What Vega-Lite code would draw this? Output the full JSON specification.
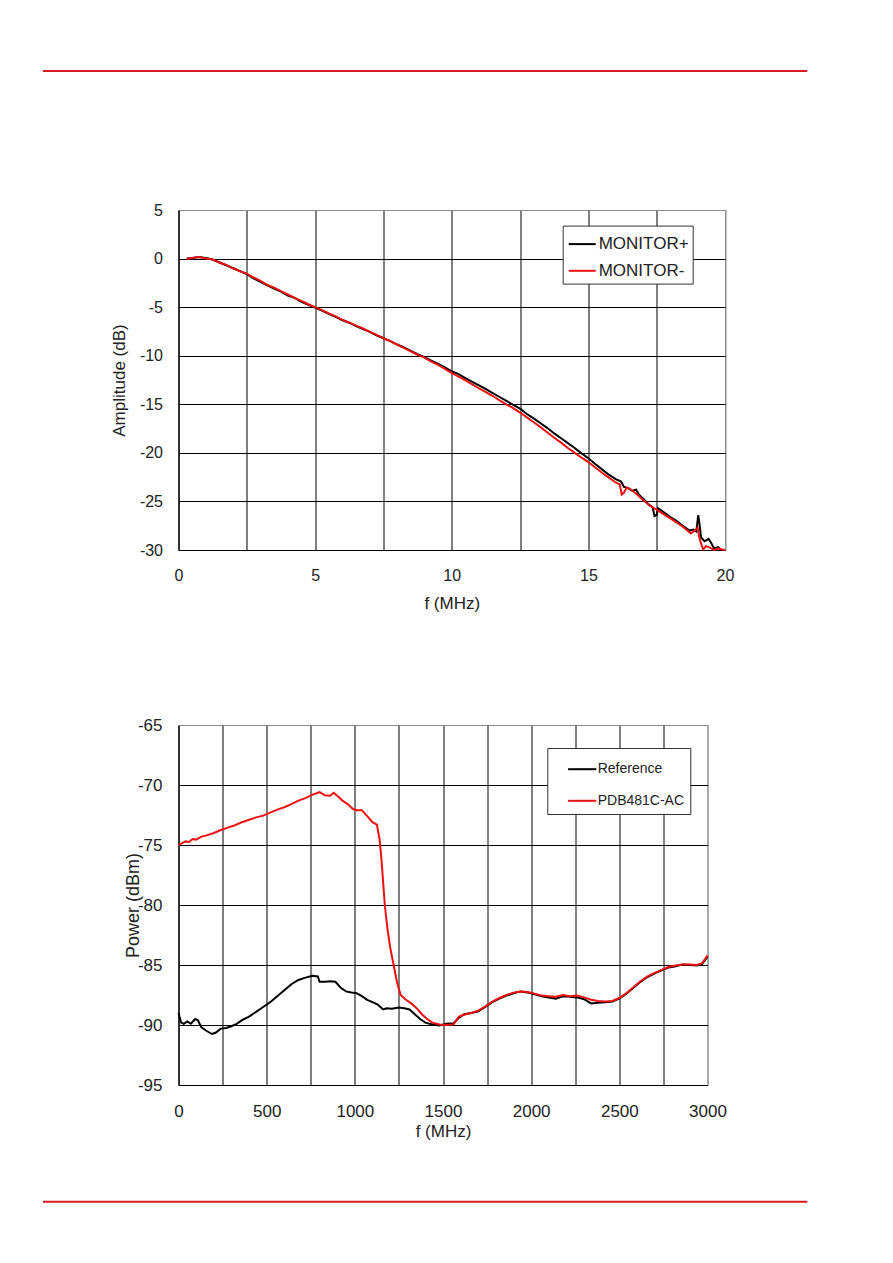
{
"$schema":"https://vega.github.io/schema/vega-lite/v6.json",
"padding":{"left":40.5,"top":69,"right":5,"bottom":5},
"autosize":{"type":"pad"},
"config":{
 "font":"Liberation Sans",
 "view":{"stroke":"#8c8c8c","strokeWidth":1},
 "axis":{"labelFont":"Liberation Sans","titleFont":"Liberation Sans","labelColor":"#222","titleColor":"#222","titleFontWeight":"normal","ticks":false,"tickSize":0,"domainColor":"#000","domainWidth":1,"gridWidth":1,"gridOpacity":1,"labelFlush":false,"labelOverlap":false},
 "legend":{"labelFont":"Liberation Sans","labelColor":"#222"}
},
"columns":1,
"spacing":103,
"resolve":{"scale":{"color":"independent"},"legend":{"color":"independent"}},
"datasets":{
"amp":[
{"f":0.3,"A":0,"s":"MONITOR+"},{"f":0.5,"A":0.05,"s":"MONITOR+"},{"f":0.75,"A":0.15,"s":"MONITOR+"},{"f":1.0,"A":0.05,"s":"MONITOR+"},{"f":1.25,"A":-0.1,"s":"MONITOR+"},{"f":1.5,"A":-0.4,"s":"MONITOR+"},{"f":1.75,"A":-0.7,"s":"MONITOR+"},{"f":2.0,"A":-1.0,"s":"MONITOR+"},{"f":2.25,"A":-1.3,"s":"MONITOR+"},{"f":2.5,"A":-1.6,"s":"MONITOR+"},{"f":2.75,"A":-2.05,"s":"MONITOR+"},{"f":3.0,"A":-2.4,"s":"MONITOR+"},{"f":3.25,"A":-2.75,"s":"MONITOR+"},{"f":3.5,"A":-3.1,"s":"MONITOR+"},{"f":3.75,"A":-3.4,"s":"MONITOR+"},{"f":4.0,"A":-3.8,"s":"MONITOR+"},{"f":4.25,"A":-4.05,"s":"MONITOR+"},{"f":4.5,"A":-4.45,"s":"MONITOR+"},{"f":4.75,"A":-4.75,"s":"MONITOR+"},{"f":5.0,"A":-5.05,"s":"MONITOR+"},{"f":5.25,"A":-5.35,"s":"MONITOR+"},{"f":5.5,"A":-5.7,"s":"MONITOR+"},{"f":5.75,"A":-6.0,"s":"MONITOR+"},{"f":6.0,"A":-6.35,"s":"MONITOR+"},{"f":6.25,"A":-6.6,"s":"MONITOR+"},{"f":6.5,"A":-6.95,"s":"MONITOR+"},{"f":6.75,"A":-7.25,"s":"MONITOR+"},{"f":7.0,"A":-7.55,"s":"MONITOR+"},{"f":7.25,"A":-7.9,"s":"MONITOR+"},{"f":7.5,"A":-8.2,"s":"MONITOR+"},{"f":7.75,"A":-8.5,"s":"MONITOR+"},{"f":8.0,"A":-8.85,"s":"MONITOR+"},{"f":8.25,"A":-9.15,"s":"MONITOR+"},{"f":8.5,"A":-9.5,"s":"MONITOR+"},{"f":8.75,"A":-9.85,"s":"MONITOR+"},{"f":9.0,"A":-10.15,"s":"MONITOR+"},{"f":9.25,"A":-10.5,"s":"MONITOR+"},{"f":9.5,"A":-10.85,"s":"MONITOR+"},{"f":9.75,"A":-11.2,"s":"MONITOR+"},{"f":10.0,"A":-11.6,"s":"MONITOR+"},{"f":10.25,"A":-11.9,"s":"MONITOR+"},{"f":10.5,"A":-12.3,"s":"MONITOR+"},{"f":10.75,"A":-12.7,"s":"MONITOR+"},{"f":11.0,"A":-13.05,"s":"MONITOR+"},{"f":11.25,"A":-13.45,"s":"MONITOR+"},{"f":11.5,"A":-13.85,"s":"MONITOR+"},{"f":11.75,"A":-14.25,"s":"MONITOR+"},{"f":12.0,"A":-14.65,"s":"MONITOR+"},{"f":12.25,"A":-15.05,"s":"MONITOR+"},{"f":12.5,"A":-15.45,"s":"MONITOR+"},{"f":12.75,"A":-16.0,"s":"MONITOR+"},{"f":13.0,"A":-16.45,"s":"MONITOR+"},{"f":13.25,"A":-16.95,"s":"MONITOR+"},{"f":13.5,"A":-17.45,"s":"MONITOR+"},{"f":13.75,"A":-18.0,"s":"MONITOR+"},{"f":14.0,"A":-18.5,"s":"MONITOR+"},{"f":14.25,"A":-19.0,"s":"MONITOR+"},{"f":14.5,"A":-19.5,"s":"MONITOR+"},{"f":14.75,"A":-20.05,"s":"MONITOR+"},{"f":15.0,"A":-20.55,"s":"MONITOR+"},{"f":15.25,"A":-21.15,"s":"MONITOR+"},{"f":15.5,"A":-21.7,"s":"MONITOR+"},{"f":15.75,"A":-22.25,"s":"MONITOR+"},{"f":16.0,"A":-22.7,"s":"MONITOR+"},{"f":16.2,"A":-22.95,"s":"MONITOR+"},{"f":16.3,"A":-23.5,"s":"MONITOR+"},{"f":16.45,"A":-23.6,"s":"MONITOR+"},{"f":16.6,"A":-23.9,"s":"MONITOR+"},{"f":16.75,"A":-23.8,"s":"MONITOR+"},{"f":16.85,"A":-24.3,"s":"MONITOR+"},{"f":17.0,"A":-24.7,"s":"MONITOR+"},{"f":17.2,"A":-25.3,"s":"MONITOR+"},{"f":17.35,"A":-25.6,"s":"MONITOR+"},{"f":17.42,"A":-26.5,"s":"MONITOR+"},{"f":17.5,"A":-26.4,"s":"MONITOR+"},{"f":17.55,"A":-25.7,"s":"MONITOR+"},{"f":17.75,"A":-26.1,"s":"MONITOR+"},{"f":18.0,"A":-26.6,"s":"MONITOR+"},{"f":18.25,"A":-27.05,"s":"MONITOR+"},{"f":18.5,"A":-27.6,"s":"MONITOR+"},{"f":18.7,"A":-28.0,"s":"MONITOR+"},{"f":18.85,"A":-27.9,"s":"MONITOR+"},{"f":18.95,"A":-28.1,"s":"MONITOR+"},{"f":19.02,"A":-26.4,"s":"MONITOR+"},{"f":19.08,"A":-27.6,"s":"MONITOR+"},{"f":19.12,"A":-28.7,"s":"MONITOR+"},{"f":19.25,"A":-29.1,"s":"MONITOR+"},{"f":19.4,"A":-28.85,"s":"MONITOR+"},{"f":19.5,"A":-29.3,"s":"MONITOR+"},{"f":19.6,"A":-29.85,"s":"MONITOR+"},{"f":19.75,"A":-29.7,"s":"MONITOR+"},{"f":19.85,"A":-30.0,"s":"MONITOR+"},{"f":20.0,"A":-30.0,"s":"MONITOR+"},
{"f":0.3,"A":-0.05,"s":"MONITOR-"},{"f":0.5,"A":0.05,"s":"MONITOR-"},{"f":0.75,"A":0.15,"s":"MONITOR-"},{"f":1.0,"A":0.0,"s":"MONITOR-"},{"f":1.25,"A":-0.1,"s":"MONITOR-"},{"f":1.5,"A":-0.4,"s":"MONITOR-"},{"f":1.75,"A":-0.65,"s":"MONITOR-"},{"f":2.0,"A":-1.0,"s":"MONITOR-"},{"f":2.25,"A":-1.3,"s":"MONITOR-"},{"f":2.5,"A":-1.55,"s":"MONITOR-"},{"f":2.75,"A":-1.95,"s":"MONITOR-"},{"f":3.0,"A":-2.3,"s":"MONITOR-"},{"f":3.25,"A":-2.7,"s":"MONITOR-"},{"f":3.5,"A":-3.0,"s":"MONITOR-"},{"f":3.75,"A":-3.35,"s":"MONITOR-"},{"f":4.0,"A":-3.7,"s":"MONITOR-"},{"f":4.25,"A":-4.05,"s":"MONITOR-"},{"f":4.5,"A":-4.35,"s":"MONITOR-"},{"f":4.75,"A":-4.7,"s":"MONITOR-"},{"f":5.0,"A":-5.0,"s":"MONITOR-"},{"f":5.25,"A":-5.3,"s":"MONITOR-"},{"f":5.5,"A":-5.65,"s":"MONITOR-"},{"f":5.75,"A":-5.95,"s":"MONITOR-"},{"f":6.0,"A":-6.3,"s":"MONITOR-"},{"f":6.25,"A":-6.6,"s":"MONITOR-"},{"f":6.5,"A":-6.9,"s":"MONITOR-"},{"f":6.75,"A":-7.2,"s":"MONITOR-"},{"f":7.0,"A":-7.55,"s":"MONITOR-"},{"f":7.25,"A":-7.85,"s":"MONITOR-"},{"f":7.5,"A":-8.2,"s":"MONITOR-"},{"f":7.75,"A":-8.5,"s":"MONITOR-"},{"f":8.0,"A":-8.85,"s":"MONITOR-"},{"f":8.25,"A":-9.2,"s":"MONITOR-"},{"f":8.5,"A":-9.55,"s":"MONITOR-"},{"f":8.75,"A":-9.9,"s":"MONITOR-"},{"f":9.0,"A":-10.2,"s":"MONITOR-"},{"f":9.25,"A":-10.6,"s":"MONITOR-"},{"f":9.5,"A":-10.95,"s":"MONITOR-"},{"f":9.75,"A":-11.35,"s":"MONITOR-"},{"f":10.0,"A":-11.8,"s":"MONITOR-"},{"f":10.25,"A":-12.15,"s":"MONITOR-"},{"f":10.5,"A":-12.55,"s":"MONITOR-"},{"f":10.75,"A":-12.95,"s":"MONITOR-"},{"f":11.0,"A":-13.35,"s":"MONITOR-"},{"f":11.25,"A":-13.75,"s":"MONITOR-"},{"f":11.5,"A":-14.15,"s":"MONITOR-"},{"f":11.75,"A":-14.6,"s":"MONITOR-"},{"f":12.0,"A":-15.0,"s":"MONITOR-"},{"f":12.25,"A":-15.4,"s":"MONITOR-"},{"f":12.5,"A":-15.85,"s":"MONITOR-"},{"f":12.75,"A":-16.35,"s":"MONITOR-"},{"f":13.0,"A":-16.85,"s":"MONITOR-"},{"f":13.25,"A":-17.35,"s":"MONITOR-"},{"f":13.5,"A":-17.9,"s":"MONITOR-"},{"f":13.75,"A":-18.45,"s":"MONITOR-"},{"f":14.0,"A":-18.95,"s":"MONITOR-"},{"f":14.25,"A":-19.5,"s":"MONITOR-"},{"f":14.5,"A":-20.0,"s":"MONITOR-"},{"f":14.75,"A":-20.5,"s":"MONITOR-"},{"f":15.0,"A":-20.95,"s":"MONITOR-"},{"f":15.25,"A":-21.5,"s":"MONITOR-"},{"f":15.5,"A":-22.05,"s":"MONITOR-"},{"f":15.75,"A":-22.55,"s":"MONITOR-"},{"f":16.0,"A":-23.05,"s":"MONITOR-"},{"f":16.15,"A":-23.25,"s":"MONITOR-"},{"f":16.22,"A":-24.3,"s":"MONITOR-"},{"f":16.3,"A":-24.1,"s":"MONITOR-"},{"f":16.4,"A":-23.6,"s":"MONITOR-"},{"f":16.55,"A":-23.75,"s":"MONITOR-"},{"f":16.75,"A":-24.2,"s":"MONITOR-"},{"f":17.0,"A":-24.85,"s":"MONITOR-"},{"f":17.25,"A":-25.45,"s":"MONITOR-"},{"f":17.5,"A":-25.85,"s":"MONITOR-"},{"f":17.75,"A":-26.3,"s":"MONITOR-"},{"f":18.0,"A":-26.75,"s":"MONITOR-"},{"f":18.25,"A":-27.2,"s":"MONITOR-"},{"f":18.5,"A":-27.7,"s":"MONITOR-"},{"f":18.75,"A":-28.3,"s":"MONITOR-"},{"f":18.9,"A":-28.0,"s":"MONITOR-"},{"f":19.0,"A":-27.7,"s":"MONITOR-"},{"f":19.05,"A":-28.6,"s":"MONITOR-"},{"f":19.12,"A":-29.3,"s":"MONITOR-"},{"f":19.2,"A":-29.95,"s":"MONITOR-"},{"f":19.3,"A":-29.6,"s":"MONITOR-"},{"f":19.45,"A":-29.75,"s":"MONITOR-"},{"f":19.6,"A":-30.0,"s":"MONITOR-"},{"f":19.75,"A":-29.85,"s":"MONITOR-"},{"f":20.0,"A":-30.0,"s":"MONITOR-"}
],
"pow":[
{"f":0,"P":-89.0,"s":"Reference"},{"f":15,"P":-89.8,"s":"Reference"},{"f":30,"P":-89.9,"s":"Reference"},{"f":50,"P":-89.7,"s":"Reference"},{"f":70,"P":-89.9,"s":"Reference"},{"f":95,"P":-89.5,"s":"Reference"},{"f":110,"P":-89.6,"s":"Reference"},{"f":130,"P":-90.2,"s":"Reference"},{"f":160,"P":-90.5,"s":"Reference"},{"f":190,"P":-90.75,"s":"Reference"},{"f":210,"P":-90.65,"s":"Reference"},{"f":240,"P":-90.3,"s":"Reference"},{"f":270,"P":-90.25,"s":"Reference"},{"f":300,"P":-90.1,"s":"Reference"},{"f":330,"P":-89.9,"s":"Reference"},{"f":360,"P":-89.6,"s":"Reference"},{"f":400,"P":-89.3,"s":"Reference"},{"f":440,"P":-88.9,"s":"Reference"},{"f":480,"P":-88.5,"s":"Reference"},{"f":520,"P":-88.1,"s":"Reference"},{"f":560,"P":-87.6,"s":"Reference"},{"f":600,"P":-87.1,"s":"Reference"},{"f":640,"P":-86.6,"s":"Reference"},{"f":680,"P":-86.25,"s":"Reference"},{"f":720,"P":-86.05,"s":"Reference"},{"f":760,"P":-85.9,"s":"Reference"},{"f":790,"P":-85.95,"s":"Reference"},{"f":800,"P":-86.4,"s":"Reference"},{"f":830,"P":-86.4,"s":"Reference"},{"f":860,"P":-86.35,"s":"Reference"},{"f":890,"P":-86.4,"s":"Reference"},{"f":920,"P":-86.9,"s":"Reference"},{"f":950,"P":-87.2,"s":"Reference"},{"f":980,"P":-87.3,"s":"Reference"},{"f":1010,"P":-87.35,"s":"Reference"},{"f":1040,"P":-87.6,"s":"Reference"},{"f":1070,"P":-87.9,"s":"Reference"},{"f":1100,"P":-88.1,"s":"Reference"},{"f":1130,"P":-88.3,"s":"Reference"},{"f":1160,"P":-88.7,"s":"Reference"},{"f":1180,"P":-88.6,"s":"Reference"},{"f":1210,"P":-88.65,"s":"Reference"},{"f":1250,"P":-88.55,"s":"Reference"},{"f":1280,"P":-88.6,"s":"Reference"},{"f":1310,"P":-88.7,"s":"Reference"},{"f":1340,"P":-89.1,"s":"Reference"},{"f":1370,"P":-89.5,"s":"Reference"},{"f":1400,"P":-89.8,"s":"Reference"},{"f":1440,"P":-89.95,"s":"Reference"},{"f":1480,"P":-90.05,"s":"Reference"},{"f":1520,"P":-89.9,"s":"Reference"},{"f":1560,"P":-89.85,"s":"Reference"},{"f":1590,"P":-89.4,"s":"Reference"},{"f":1620,"P":-89.1,"s":"Reference"},{"f":1660,"P":-89.0,"s":"Reference"},{"f":1700,"P":-88.85,"s":"Reference"},{"f":1740,"P":-88.5,"s":"Reference"},{"f":1780,"P":-88.1,"s":"Reference"},{"f":1820,"P":-87.8,"s":"Reference"},{"f":1860,"P":-87.55,"s":"Reference"},{"f":1900,"P":-87.35,"s":"Reference"},{"f":1940,"P":-87.2,"s":"Reference"},{"f":1980,"P":-87.3,"s":"Reference"},{"f":2020,"P":-87.45,"s":"Reference"},{"f":2060,"P":-87.6,"s":"Reference"},{"f":2100,"P":-87.7,"s":"Reference"},{"f":2140,"P":-87.8,"s":"Reference"},{"f":2180,"P":-87.6,"s":"Reference"},{"f":2220,"P":-87.65,"s":"Reference"},{"f":2260,"P":-87.7,"s":"Reference"},{"f":2300,"P":-87.85,"s":"Reference"},{"f":2340,"P":-88.2,"s":"Reference"},{"f":2380,"P":-88.15,"s":"Reference"},{"f":2420,"P":-88.1,"s":"Reference"},{"f":2460,"P":-88.05,"s":"Reference"},{"f":2500,"P":-87.8,"s":"Reference"},{"f":2540,"P":-87.4,"s":"Reference"},{"f":2580,"P":-86.9,"s":"Reference"},{"f":2620,"P":-86.4,"s":"Reference"},{"f":2660,"P":-86.0,"s":"Reference"},{"f":2700,"P":-85.7,"s":"Reference"},{"f":2740,"P":-85.45,"s":"Reference"},{"f":2780,"P":-85.2,"s":"Reference"},{"f":2820,"P":-85.1,"s":"Reference"},{"f":2860,"P":-84.95,"s":"Reference"},{"f":2900,"P":-85.0,"s":"Reference"},{"f":2940,"P":-85.05,"s":"Reference"},{"f":2970,"P":-84.9,"s":"Reference"},{"f":3000,"P":-84.3,"s":"Reference"},
{"f":0,"P":-75.0,"s":"PDB481C-AC"},{"f":20,"P":-74.85,"s":"PDB481C-AC"},{"f":40,"P":-74.7,"s":"PDB481C-AC"},{"f":60,"P":-74.75,"s":"PDB481C-AC"},{"f":80,"P":-74.5,"s":"PDB481C-AC"},{"f":100,"P":-74.55,"s":"PDB481C-AC"},{"f":130,"P":-74.3,"s":"PDB481C-AC"},{"f":160,"P":-74.2,"s":"PDB481C-AC"},{"f":200,"P":-74.0,"s":"PDB481C-AC"},{"f":240,"P":-73.75,"s":"PDB481C-AC"},{"f":280,"P":-73.55,"s":"PDB481C-AC"},{"f":320,"P":-73.35,"s":"PDB481C-AC"},{"f":360,"P":-73.1,"s":"PDB481C-AC"},{"f":400,"P":-72.9,"s":"PDB481C-AC"},{"f":440,"P":-72.7,"s":"PDB481C-AC"},{"f":480,"P":-72.55,"s":"PDB481C-AC"},{"f":520,"P":-72.3,"s":"PDB481C-AC"},{"f":560,"P":-72.05,"s":"PDB481C-AC"},{"f":600,"P":-71.85,"s":"PDB481C-AC"},{"f":640,"P":-71.6,"s":"PDB481C-AC"},{"f":680,"P":-71.3,"s":"PDB481C-AC"},{"f":720,"P":-71.1,"s":"PDB481C-AC"},{"f":760,"P":-70.8,"s":"PDB481C-AC"},{"f":800,"P":-70.6,"s":"PDB481C-AC"},{"f":830,"P":-70.85,"s":"PDB481C-AC"},{"f":860,"P":-70.9,"s":"PDB481C-AC"},{"f":880,"P":-70.65,"s":"PDB481C-AC"},{"f":900,"P":-70.9,"s":"PDB481C-AC"},{"f":930,"P":-71.3,"s":"PDB481C-AC"},{"f":960,"P":-71.6,"s":"PDB481C-AC"},{"f":990,"P":-72.0,"s":"PDB481C-AC"},{"f":1010,"P":-72.1,"s":"PDB481C-AC"},{"f":1040,"P":-72.1,"s":"PDB481C-AC"},{"f":1070,"P":-72.6,"s":"PDB481C-AC"},{"f":1100,"P":-73.1,"s":"PDB481C-AC"},{"f":1125,"P":-73.3,"s":"PDB481C-AC"},{"f":1140,"P":-74.5,"s":"PDB481C-AC"},{"f":1150,"P":-76.0,"s":"PDB481C-AC"},{"f":1160,"P":-78.0,"s":"PDB481C-AC"},{"f":1170,"P":-80.0,"s":"PDB481C-AC"},{"f":1185,"P":-82.0,"s":"PDB481C-AC"},{"f":1200,"P":-83.5,"s":"PDB481C-AC"},{"f":1220,"P":-85.0,"s":"PDB481C-AC"},{"f":1240,"P":-86.5,"s":"PDB481C-AC"},{"f":1260,"P":-87.5,"s":"PDB481C-AC"},{"f":1290,"P":-87.9,"s":"PDB481C-AC"},{"f":1320,"P":-88.2,"s":"PDB481C-AC"},{"f":1350,"P":-88.6,"s":"PDB481C-AC"},{"f":1380,"P":-89.1,"s":"PDB481C-AC"},{"f":1410,"P":-89.5,"s":"PDB481C-AC"},{"f":1440,"P":-89.8,"s":"PDB481C-AC"},{"f":1480,"P":-89.95,"s":"PDB481C-AC"},{"f":1520,"P":-90.0,"s":"PDB481C-AC"},{"f":1560,"P":-89.95,"s":"PDB481C-AC"},{"f":1590,"P":-89.3,"s":"PDB481C-AC"},{"f":1620,"P":-89.15,"s":"PDB481C-AC"},{"f":1660,"P":-89.0,"s":"PDB481C-AC"},{"f":1700,"P":-88.8,"s":"PDB481C-AC"},{"f":1740,"P":-88.45,"s":"PDB481C-AC"},{"f":1780,"P":-88.05,"s":"PDB481C-AC"},{"f":1820,"P":-87.75,"s":"PDB481C-AC"},{"f":1860,"P":-87.5,"s":"PDB481C-AC"},{"f":1900,"P":-87.3,"s":"PDB481C-AC"},{"f":1940,"P":-87.2,"s":"PDB481C-AC"},{"f":1980,"P":-87.25,"s":"PDB481C-AC"},{"f":2020,"P":-87.4,"s":"PDB481C-AC"},{"f":2060,"P":-87.55,"s":"PDB481C-AC"},{"f":2100,"P":-87.6,"s":"PDB481C-AC"},{"f":2140,"P":-87.65,"s":"PDB481C-AC"},{"f":2180,"P":-87.5,"s":"PDB481C-AC"},{"f":2220,"P":-87.6,"s":"PDB481C-AC"},{"f":2260,"P":-87.55,"s":"PDB481C-AC"},{"f":2300,"P":-87.7,"s":"PDB481C-AC"},{"f":2340,"P":-87.9,"s":"PDB481C-AC"},{"f":2380,"P":-88.0,"s":"PDB481C-AC"},{"f":2420,"P":-88.05,"s":"PDB481C-AC"},{"f":2460,"P":-88.0,"s":"PDB481C-AC"},{"f":2500,"P":-87.75,"s":"PDB481C-AC"},{"f":2540,"P":-87.35,"s":"PDB481C-AC"},{"f":2580,"P":-86.85,"s":"PDB481C-AC"},{"f":2620,"P":-86.35,"s":"PDB481C-AC"},{"f":2660,"P":-85.95,"s":"PDB481C-AC"},{"f":2700,"P":-85.65,"s":"PDB481C-AC"},{"f":2740,"P":-85.4,"s":"PDB481C-AC"},{"f":2780,"P":-85.15,"s":"PDB481C-AC"},{"f":2820,"P":-85.05,"s":"PDB481C-AC"},{"f":2860,"P":-84.95,"s":"PDB481C-AC"},{"f":2900,"P":-84.95,"s":"PDB481C-AC"},{"f":2940,"P":-85.0,"s":"PDB481C-AC"},{"f":2970,"P":-84.85,"s":"PDB481C-AC"},{"f":3000,"P":-84.2,"s":"PDB481C-AC"}
]
},
"concat":[
{
 "width":546.5,"height":340,
 "layer":[
  {"data":{"name":"amp"},
   "mark":{"type":"line","strokeWidth":2},
   "encoding":{
    "x":{"field":"f","type":"quantitative","scale":{"domain":[0,20],"nice":false,"zero":false},
      "axis":{"title":"f (MHz)","values":[0,2.5,5,7.5,10,12.5,15,17.5,20],"labelExpr":"datum.value % 5 === 0 ? '' + datum.value : ''","grid":true,"gridColor":{"condition":{"test":"datum.value === 20","value":"#8c8c8c"},"value":"#000"},"labelFontSize":16,"titleFontSize":17,"labelPadding":17,"titlePadding":12}},
    "y":{"field":"A","type":"quantitative","scale":{"domain":[-30,5],"nice":false,"zero":false},
      "axis":{"title":"Amplitude (dB)","values":[-30,-25,-20,-15,-10,-5,0,5],"labelExpr":"'' + datum.value","grid":true,"gridColor":{"condition":{"test":"datum.value === 5","value":"#8c8c8c"},"value":"#000"},"labelFontSize":16,"titleFontSize":17,"labelPadding":16,"titlePadding":11}},
    "color":{"field":"s","type":"nominal","scale":{"domain":["MONITOR+","MONITOR-"],"range":["#000000","#ee1111"]},
      "legend":{"title":null,"orient":"none","legendX":384.2,"legendY":15.6,"symbolType":"stroke","symbolSize":729,"symbolStrokeWidth":2,"labelFontSize":17,"strokeColor":"#333","fillColor":"#fff","padding":4,"symbolOffset":1,"rowPadding":3.7,"labelOffset":2}}
   }},
  {"data":{"values":[{}]},
   "mark":{"type":"rule","color":"#d71920","strokeWidth":2,"clip":false},
   "encoding":{"x":{"datum":-4.959,"type":"quantitative"},"x2":{"datum":23.012},"y":{"datum":19.31,"type":"quantitative"}}}
 ]
},
{
 "width":529,"height":360,
 "layer":[
  {"data":{"name":"pow"},
   "mark":{"type":"line","strokeWidth":2},
   "encoding":{
    "x":{"field":"f","type":"quantitative","scale":{"domain":[0,3000],"nice":false,"zero":false},
      "axis":{"title":"f (MHz)","values":[0,250,500,750,1000,1250,1500,1750,2000,2250,2500,2750,3000],"labelExpr":"datum.value % 500 === 0 ? '' + datum.value : ''","grid":true,"gridColor":{"condition":{"test":"datum.value === 3000","value":"#8c8c8c"},"value":"#000"},"labelFontSize":17,"titleFontSize":17,"labelPadding":18,"titlePadding":4}},
    "y":{"field":"P","type":"quantitative","scale":{"domain":[-95,-65],"nice":false,"zero":false},
      "axis":{"title":"Power (dBm)","values":[-95,-90,-85,-80,-75,-70,-65],"labelExpr":"'' + datum.value","grid":true,"gridColor":{"condition":{"test":"datum.value === -65","value":"#8c8c8c"},"value":"#000"},"labelFontSize":17,"titleFontSize":18,"labelPadding":16.5,"titlePadding":-5}},
    "color":{"field":"s","type":"nominal","scale":{"domain":["Reference","PDB481C-AC"],"range":["#000000","#ee1111"]},
      "legend":{"title":null,"orient":"none","legendX":368.8,"legendY":23,"symbolType":"stroke","symbolSize":800,"symbolStrokeWidth":2,"labelFontSize":14,"strokeColor":"#333","fillColor":"#fff","padding":5.7,"symbolOffset":13.7,"rowPadding":8.6,"labelOffset":0}}
   }},
  {"data":{"values":[{}]},
   "mark":{"type":"rule","color":"#d71920","strokeWidth":2,"clip":false},
   "encoding":{"x":{"datum":-768.4,"type":"quantitative"},"x2":{"datum":3566},"y":{"datum":-104.72,"type":"quantitative"}}}
 ]
}
]
}
